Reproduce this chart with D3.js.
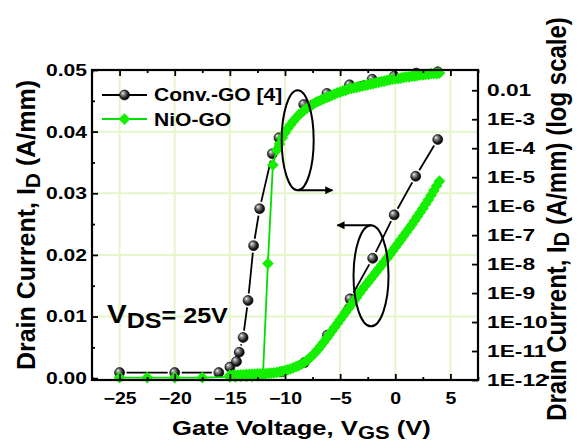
<!DOCTYPE html>
<html>
<head>
<meta charset="utf-8">
<script src="https://cdn.jsdelivr.net/npm/d3@7"></script>
<style>
  body { margin: 0; background: #fff; }
  text { font-family: "Liberation Sans", Arial, sans-serif; font-weight: bold; fill: #000; }
</style>
</head>
<body>
<script>

// ---- data ----
// Conv.-GO [4], linear axis (A/mm)
var convLinV = [-25, -20, -16, -15, -14.4, -14.15, -13.8, -13.35, -12.85, -12.3, -11.15, -10.55, -8.3, -6.2, -4.15, -2.1, -0.1, 1.9, 3.85];
var convLinI = [0.0009, 0.0009, 0.0009, 0.0018, 0.0027, 0.0042, 0.0066, 0.0126, 0.0215, 0.0275, 0.0364, 0.0390, 0.0444, 0.0462, 0.0476, 0.0485, 0.0490, 0.0495, 0.0497];

// Conv.-GO [4], log axis (exponent of A/mm)
var convLogV   = [-10.3, -8.25, -6.15, -4.1, -2.05, -0.1, 1.85, 3.85];
var convLogExp = [-11.72, -11.4, -10.45, -9.2, -7.8, -6.3, -4.97, -3.7];

// NiO-GO, linear axis (A/mm)
var nioLinV = [-25, -22.5, -20, -17.5, -15, -14.5, -14, -13.5, -13, -12.5, -12, -11.55, -11.1, -10.75,
               -10.5, -10.25, -10, -9.75, -9.5, -9.25, -9, -8.75, -8.5, -8.25, -8, -7.75, -7.5, -7.25,
               -7, -6.75, -6.5, -6.25, -6, -5.75, -5.5, -5.25, -5, -4.75, -4.5, -4.25, -4, -3.75,
               -3.5, -3.25, -3, -2.75, -2.5, -2.25, -2, -1.75, -1.5, -1.25, -1, -0.75, -0.5, -0.25,
               0, 0.25, 0.5, 0.75, 1, 1.25, 1.5, 1.75, 2, 2.25, 2.5, 2.75, 3, 3.25, 3.5, 3.75, 4];
var nioLinI = [0.0001, 0.0001, 0.0001, 0.0001, 0.0002, 0.0002, 0.0003, 0.0003, 0.0003, 0.0004, 0.0004, 0.0186, 0.0346, 0.0370,
               0.0380, 0.0390, 0.0398, 0.0405, 0.0411, 0.0417, 0.0422, 0.0427, 0.0431, 0.0435, 0.0438, 0.0441, 0.0444, 0.0447,
               0.0449, 0.0451, 0.0453, 0.0455, 0.0457, 0.0459, 0.0461, 0.0463, 0.0464, 0.0466, 0.0467, 0.0469, 0.0470, 0.0471,
               0.0472, 0.0473, 0.0474, 0.0475, 0.0476, 0.0477, 0.0478, 0.0479, 0.0480, 0.0481, 0.0482, 0.0483, 0.0484, 0.0485,
               0.0486, 0.0486, 0.0487, 0.0488, 0.0489, 0.0489, 0.0490, 0.0490, 0.0491, 0.0492, 0.0492, 0.0493, 0.0493, 0.0494, 0.0494, 0.0494, 0.0495];

// NiO-GO, log axis (exponent of A/mm)
var nioLogV = [-15, -14.75, -14.5, -14.25, -14, -13.75, -13.5, -13.25, -13, -12.75, -12.5, -12.25,
               -12, -11.75, -11.5, -11.25, -11, -10.75, -10.5, -10.25, -10, -9.75, -9.5, -9.25,
               -9, -8.75, -8.5, -8.25, -8, -7.75, -7.5, -7.25, -7, -6.75, -6.5, -6.25,
               -6, -5.75, -5.5, -5.25, -5, -4.75, -4.5, -4.25, -4, -3.75, -3.5, -3.25,
               -3, -2.75, -2.5, -2.25, -2, -1.75, -1.5, -1.25, -1, -0.75, -0.5, -0.25,
               0, 0.25, 0.5, 0.75, 1, 1.25, 1.5, 1.75, 2, 2.25, 2.5, 2.75, 3, 3.25, 3.5, 3.75, 4];
var nioLogExp = [-11.84, -11.84, -11.83, -11.83, -11.82, -11.82, -11.81, -11.81, -11.80, -11.80, -11.79, -11.79,
                 -11.78, -11.78, -11.77, -11.76, -11.75, -11.74, -11.72, -11.70, -11.68, -11.65, -11.62, -11.58,
                 -11.54, -11.50, -11.45, -11.39, -11.32, -11.24, -11.15, -11.05, -10.94, -10.82, -10.70, -10.57,
                 -10.44, -10.31, -10.18, -10.05, -9.92, -9.79, -9.66, -9.53, -9.40, -9.27, -9.14, -9.01,
                 -8.88, -8.76, -8.64, -8.52, -8.40, -8.28, -8.16, -8.04, -7.92, -7.80, -7.68, -7.55,
                 -7.42, -7.29, -7.16, -7.03, -6.90, -6.77, -6.64, -6.50, -6.36, -6.22, -6.08, -5.93, -5.78, -5.62, -5.46, -5.30, -5.14];

// ticks
var xTicks      = [-25, -20, -15, -10, -5, 0, 5];
var xMinor      = [-27.5, -22.5, -17.5, -12.5, -7.5, -2.5, 2.5, 7.5];
var yLinTicks   = [0, 0.01, 0.02, 0.03, 0.04, 0.05];
var yLinLabels  = ["0.00", "0.01", "0.02", "0.03", "0.04", "0.05"];
var yLinMinor   = [0.005, 0.015, 0.025, 0.035, 0.045];
var yLogTicks   = [1e-12, 1e-11, 1e-10, 1e-9, 1e-8, 1e-7, 1e-6, 1e-5, 1e-4, 1e-3, 1e-2];
var yLogLabels  = ["1E-12", "1E-11", "1E-10", "1E-9", "1E-8", "1E-7", "1E-6", "1E-5", "1E-4", "1E-3", "0.01"];

var seriesNames = ["Conv.-GO [4]", "NiO-GO"];

// ---- layout ----
var W = 578, H = 444;
var pL = 92, pR = 478, pT = 70, pB = 380;
var green = "#14ef00", greenLine = "#00dd00", gridColor = "#e5f6cb";

var svg = d3.select("body").append("svg")
    .attr("width", W).attr("height", H);

var defs = svg.append("defs");
var grad = defs.append("radialGradient").attr("id", "ball")
    .attr("cx", "0.42").attr("cy", "0.42").attr("r", "0.6")
    .attr("fx", "0.32").attr("fy", "0.3");
grad.append("stop").attr("offset", "0").attr("stop-color", "#f2f2f2");
grad.append("stop").attr("offset", "0.3").attr("stop-color", "#8a8a8a");
grad.append("stop").attr("offset", "0.75").attr("stop-color", "#1a1a1a");
grad.append("stop").attr("offset", "1").attr("stop-color", "#000");

defs.append("marker").attr("id", "head")
    .attr("viewBox", "0 0 10 10").attr("refX", 9).attr("refY", 5)
    .attr("markerWidth", 5).attr("markerHeight", 4).attr("orient", "auto")
    .attr("markerUnits", "strokeWidth")
  .append("path").attr("d", "M0,0L10,5L0,10z").attr("fill", "#000");

var x    = d3.scaleLinear().domain([-27.5, 7.5]).range([pL, pR]);
var yLin = d3.scaleLinear().domain([-0.0003, 0.05]).range([pB, pT]);
var yLog = d3.scaleLog().domain([1e-12, 0.05]).range([pB, pT]);

// grid
var grid = svg.append("g");
grid.selectAll(".gv").data(xTicks).enter().append("line")
    .attr("x1", function(d) { return x(d); }).attr("x2", function(d) { return x(d); })
    .attr("y1", pT).attr("y2", pB)
    .attr("stroke", gridColor).attr("stroke-width", 2);
grid.selectAll(".gh").data(yLinTicks.slice(1, 5)).enter().append("line")
    .attr("x1", pL).attr("x2", pR)
    .attr("y1", function(d) { return yLin(d); }).attr("y2", function(d) { return yLin(d); })
    .attr("stroke", gridColor).attr("stroke-width", 2);

// black lines with little gaps around the balls (as in the original)
function gapLine(g, xs, ys, sx, sy, gap) {
    for (var i = 0; i < xs.length - 1; i++) {
        var x0 = sx(xs[i]), y0 = sy(ys[i]), x1 = sx(xs[i + 1]), y1 = sy(ys[i + 1]);
        var L = Math.hypot(x1 - x0, y1 - y0);
        if (L <= 2 * gap) continue;
        var ux = (x1 - x0) / L, uy = (y1 - y0) / L;
        g.append("line")
            .attr("x1", x0 + ux * gap).attr("y1", y0 + uy * gap)
            .attr("x2", x1 - ux * gap).attr("y2", y1 - uy * gap)
            .attr("stroke", "#000").attr("stroke-width", 1.8);
    }
}

function balls(g, xs, ys, sx, sy) {
    g.selectAll(null).data(xs).enter().append("circle")
        .attr("cx", function(d) { return sx(d); })
        .attr("cy", function(d, i) { return sy(ys[i]); })
        .attr("r", 5)
        .attr("fill", "url(#ball)").attr("stroke", "#000").attr("stroke-width", 0.6);
}

var diamond = d3.symbol().type(d3.symbolDiamond2).size(88);
function diamonds(g, xs, ys, sx, sy) {
    g.append("path")
        .datum(xs)
        .attr("d", d3.line().x(function(d) { return sx(d); }).y(function(d, i) { return sy(ys[i]); }))
        .attr("fill", "none").attr("stroke", greenLine).attr("stroke-width", 1.8);
    g.selectAll(null).data(xs).enter().append("path")
        .attr("d", diamond)
        .attr("transform", function(d, i) { return "translate(" + sx(d) + "," + sy(ys[i]) + ")"; })
        .attr("fill", green);
}

var convLogI = convLogExp.map(function(e) { return Math.pow(10, e); });
var nioLogI  = nioLogExp.map(function(e) { return Math.pow(10, e); });

var plot = svg.append("g");
gapLine(plot, convLinV, convLinI, x, yLin, 7);
gapLine(plot, convLogV, convLogI, x, yLog, 7);
balls(plot, convLinV, convLinI, x, yLin);
balls(plot, convLogV, convLogI, x, yLog);
diamonds(plot, nioLinV, nioLinI, x, yLin);
diamonds(plot, nioLogV, nioLogI, x, yLog);

// annotations: ellipses with arrows pointing to their axis
var ann = svg.append("g").attr("fill", "none").attr("stroke", "#000").attr("stroke-width", 2);
var e1x = x(-8.85), e1y = yLin(0.0386);
ann.append("ellipse").attr("cx", e1x).attr("cy", e1y).attr("rx", 16).attr("ry", 50);
ann.append("line").attr("x1", e1x).attr("y1", e1y + 50).attr("x2", x(-5.7)).attr("y2", e1y + 50)
    .attr("marker-end", "url(#head)");
var e2x = x(-2.2), e2y = yLin(0.0166);
ann.append("ellipse").attr("cx", e2x).attr("cy", e2y).attr("rx", 17.5).attr("ry", 50.5);
ann.append("line").attr("x1", e2x).attr("y1", e2y - 50.5).attr("x2", x(-5.25)).attr("y2", e2y - 50.5)
    .attr("marker-end", "url(#head)");

// axes
function styleAxis(g, fs, sx) {
    g.select(".domain").remove();
    g.selectAll("line").attr("stroke", "#000").attr("stroke-width", 1.8);
    g.selectAll("text").style("font-size", fs + "px")
        .attr("transform", "scale(" + sx + ",1)");
}

var gx = svg.append("g").attr("transform", "translate(0," + pB + ")")
    .call(d3.axisBottom(x).tickValues(xTicks).tickSize(-6).tickPadding(12).tickSizeOuter(0));
styleAxis(gx, 16, 1.22);
gx.selectAll("text").attr("dy", "0.71em").attr("y", 13);

svg.append("g").attr("transform", "translate(0," + pB + ")")
    .call(d3.axisBottom(x).tickValues(xMinor).tickSize(-3).tickFormat("").tickSizeOuter(0))
    .call(function(g) { styleAxis(g, 16, 1); });
svg.append("g").attr("transform", "translate(0," + pT + ")")
    .call(d3.axisTop(x).tickValues(xTicks).tickSize(-6).tickFormat("").tickSizeOuter(0))
    .call(function(g) { styleAxis(g, 16, 1); });
svg.append("g").attr("transform", "translate(0," + pT + ")")
    .call(d3.axisTop(x).tickValues(xMinor).tickSize(-3).tickFormat("").tickSizeOuter(0))
    .call(function(g) { styleAxis(g, 16, 1); });

var gy = svg.append("g").attr("transform", "translate(" + pL + ",0)")
    .call(d3.axisLeft(yLin).tickValues(yLinTicks).tickSize(-6).tickPadding(6).tickSizeOuter(0)
        .tickFormat(function(d, i) { return yLinLabels[i]; }));
styleAxis(gy, 17, 1.24);
gy.selectAll("text").attr("x", -5 / 1.24);

svg.append("g").attr("transform", "translate(" + pL + ",0)")
    .call(d3.axisLeft(yLin).tickValues(yLinMinor).tickSize(-3).tickFormat("").tickSizeOuter(0))
    .call(function(g) { styleAxis(g, 16, 1); });

var gr = svg.append("g").attr("transform", "translate(" + pR + ",0)")
    .call(d3.axisRight(yLog).tickValues(yLogTicks).tickSize(-6).tickPadding(9).tickSizeOuter(0)
        .tickFormat(function(d, i) { return yLogLabels[i]; }));
styleAxis(gr, 16.5, 1.38);
gr.selectAll("text").attr("x", 9 / 1.38);

// frame
svg.append("rect").attr("x", pL).attr("y", pT)
    .attr("width", pR - pL).attr("height", pB - pT)
    .attr("fill", "none").attr("stroke", "#000").attr("stroke-width", 2.2);

// axis titles
var tb = svg.append("text").attr("transform", "translate(172,435) scale(1.22,1)").style("font-size", "21px");
tb.append("tspan").text("Gate Voltage, V");
tb.append("tspan").attr("dy", 4).style("font-size", "18px").text("GS");
tb.append("tspan").attr("dy", -4).text(" (V)");

var tl = svg.append("text").attr("transform", "translate(35,225) rotate(-90)")
    .attr("text-anchor", "middle").style("font-size", "25px");
tl.append("tspan").text("Drain Current, I");
tl.append("tspan").attr("dy", 5).style("font-size", "21px").text("D");
tl.append("tspan").attr("dy", -5).text(" (A/mm)");

var tr = svg.append("text").attr("transform", "translate(566,219) rotate(-90) scale(1,1.12)")
    .attr("text-anchor", "middle").style("font-size", "24px");
tr.append("tspan").text("Drain Current, I");
tr.append("tspan").attr("dy", 3).style("font-size", "20px").text("D");
tr.append("tspan").attr("dy", -3).text(" (A/mm) (log scale)");

// legend
var lg = svg.append("g");
lg.append("line").attr("x1", 102).attr("x2", 147).attr("y1", 95).attr("y2", 95)
    .attr("stroke", "#000").attr("stroke-width", 1.8);
lg.append("circle").attr("cx", 124.5).attr("cy", 95).attr("r", 5)
    .attr("fill", "url(#ball)").attr("stroke", "#000").attr("stroke-width", 0.6);
lg.append("line").attr("x1", 102).attr("x2", 147).attr("y1", 119).attr("y2", 119)
    .attr("stroke", greenLine).attr("stroke-width", 1.8);
lg.append("path").attr("d", diamond).attr("transform", "translate(124.5,119)").attr("fill", green);
lg.append("text").attr("transform", "translate(154,101) scale(1.17,1)").style("font-size", "18px").text(seriesNames[0]);
lg.append("text").attr("transform", "translate(154,126) scale(1.17,1)").style("font-size", "18px").text(seriesNames[1]);

// V_DS label
var vd = svg.append("text").attr("transform", "translate(107,323) scale(1.14,1)").style("font-size", "26px");
vd.append("tspan").text("V");
vd.append("tspan").attr("dy", 5).style("font-size", "22px").text("DS");
vd.append("tspan").attr("dy", -5).style("font-size", "22px").text("= 25V");

</script>
</body>
</html>
